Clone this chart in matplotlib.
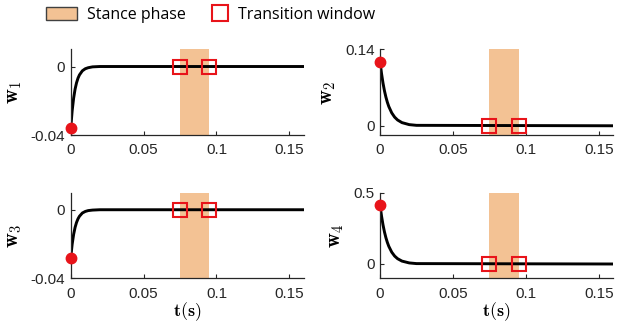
import matplotlib
matplotlib.use('Agg')
import matplotlib.pyplot as plt
from matplotlib.patches import Patch
from matplotlib.lines import Line2D

plt.rcParams['mathtext.fontset'] = 'cm'
plt.rcParams['font.family'] = 'Liberation Sans'

# values
t = [0, 0.001, 0.002, 0.003, 0.004, 0.005, 0.006, 0.008, 0.010, 0.012, 0.015, 0.020, 0.025, 0.16]
w1 = [-0.036, -0.0258, -0.0185, -0.0132, -0.0095, -0.0068, -0.0049, -0.0025, -0.0013, -0.0007, -0.0002, 0, 0, 0]
w2 = [0.117, 0.0958, 0.0784, 0.0642, 0.0526, 0.0430, 0.0352, 0.0236, 0.0158, 0.0106, 0.0058, 0.0021, 0.0008, 0]
w3 = [-0.028, -0.0201, -0.0144, -0.0103, -0.0074, -0.0053, -0.0038, -0.0019, -0.0010, -0.0005, -0.0002, 0, 0, 0]
w4 = [0.41, 0.3357, 0.2748, 0.2250, 0.1842, 0.1508, 0.1235, 0.0828, 0.0555, 0.0372, 0.0204, 0.0075, 0.0028, 0]

stance = (0.075, 0.095)
transitions = [0.075, 0.095]

labels = [r'$\mathbf{w}_1$', r'$\mathbf{w}_2$', r'$\mathbf{w}_3$', r'$\mathbf{w}_4$']
series = [w1, w2, w3, w4]
ylims = [(-0.04, 0.01), (-0.017, 0.14), (-0.04, 0.01), (-0.1, 0.5)]
yticks = [[-0.04, 0], [0, 0.14], [-0.04, 0], [0, 0.5]]
yticklabels = [['-0.04', '0'], ['0', '0.14'], ['-0.04', '0'], ['0', '0.5']]

orange = '#F3C294'
red = '#E8141A'

fig = plt.figure(figsize=(6.17, 3.27), dpi=100)
boxes = [(0.1146, 0.587), (0.616, 0.587), (0.1146, 0.149), (0.616, 0.149)]

for i, (x0, y0) in enumerate(boxes):
    ax = fig.add_axes([x0, y0, 0.378, 0.262])
    ax.axvspan(stance[0], stance[1], color=orange, lw=0, zorder=1)
    ax.plot(t, series[i], color='black', lw=2.1, zorder=2)
    ax.plot([0], [series[i][0]], 'o', color=red, ms=7.5, zorder=4, clip_on=False)
    ax.plot(transitions, [0, 0], 's', mfc='none', mec=red, mew=1.5, ms=10.5, zorder=3)
    ax.set_xlim(0, 0.16)
    ax.set_ylim(*ylims[i])
    ax.set_xticks([0, 0.05, 0.1, 0.15])
    ax.set_xticklabels(['0', '0.05', '0.1', '0.15'])
    ax.set_yticks(yticks[i])
    ax.set_yticklabels(yticklabels[i])
    for s in ['top', 'right']:
        ax.spines[s].set_visible(False)
    for s in ['left', 'bottom']:
        ax.spines[s].set_color('#262626')
        ax.spines[s].set_linewidth(0.9)
    ax.tick_params(direction='in', length=3, width=0.8, colors='#262626',
                   labelsize=11, pad=4)
    ax.tick_params(axis='x', pad=6)
    ax.set_ylabel(labels[i], fontsize=15, labelpad=5)
    if i >= 2:
        ax.set_xlabel(r'$\mathbf{t(s)}$', fontsize=13, labelpad=0)

legend_font = {'family': 'Open Sans', 'size': 11.5}
leg_patch = Patch(facecolor=orange, edgecolor='#404040', lw=1.0)
leg_square = Line2D([], [], ls='none', marker='s', mfc='none', mec=red, mew=1.5, ms=11)
fig.legend([leg_patch], ['Stance phase'], loc='center left',
           bbox_to_anchor=(0.0746, 0.954), frameon=False, prop=legend_font,
           handlelength=1.94, handleheight=0.85, handletextpad=0.62,
           borderpad=0, borderaxespad=0)
fig.legend([leg_square], ['Transition window'], loc='center left',
           bbox_to_anchor=(0.344, 0.954), frameon=False, prop=legend_font,
           handlelength=1.0, handletextpad=0.6, borderpad=0, borderaxespad=0)

fig.savefig('out.png', dpi=100)
